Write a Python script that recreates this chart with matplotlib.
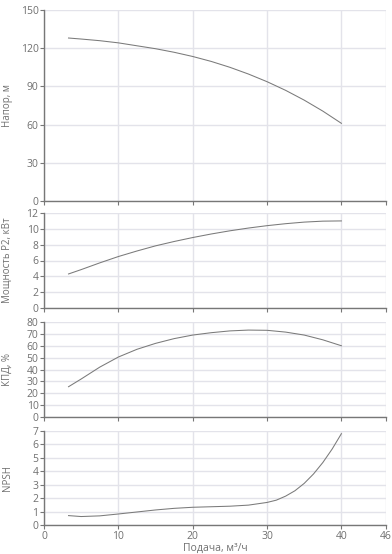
import matplotlib
matplotlib.use("Agg")
import matplotlib.pyplot as plt

plt.rcParams['font.family'] = ['Open Sans', 'DejaVu Sans']

# flow, m3/h
q = [3.3, 5, 7.5, 10, 12.5, 15, 17.5, 20, 22.5, 25, 27.5, 30, 32.5, 35, 37.5, 40]
head = [128.0, 127.2, 125.9, 124.2, 121.9, 119.6, 116.8, 113.5, 109.6, 105.0, 99.7, 93.7, 86.9, 79.2, 70.6, 61.0]
power = [4.3, 4.85, 5.7, 6.5, 7.2, 7.85, 8.4, 8.9, 9.35, 9.75, 10.1, 10.4, 10.65, 10.85, 10.97, 11.0]
eff = [25.5, 32, 42, 50.5, 57, 62, 66, 69, 71, 72.5, 73.2, 73, 71.5, 69, 65, 60]
q_npsh = [3.3, 5, 7.5, 10, 12.5, 15, 17.5, 20, 22.5, 25, 27.5, 30, 31.25, 32.5, 33.75, 35, 36.25, 37.5, 38.75, 40]
npsh = [0.7, 0.63, 0.68, 0.82, 0.97, 1.12, 1.24, 1.32, 1.36, 1.4, 1.48, 1.68, 1.85, 2.15, 2.55, 3.1, 3.8, 4.65, 5.65, 6.8]

xs = [q, q, q, q_npsh]
series = [head, power, eff, npsh]
labels = ["Напор, м", "Мощность P2, кВт", "КПД, %", "NPSH"]
yticks = [range(0, 151, 30), range(0, 13, 2), range(0, 81, 10), range(0, 8, 1)]
xticks = [0, 10, 20, 30, 40, 46]

W, H = 392, 554
# panel tops / bottoms in pixels
boxes = [(10, 201), (213, 308), (322, 417), (431, 525)]
left, right = 44, 386

fig = plt.figure(figsize=(W / 100, H / 100), dpi=100)
txt = '#707070'
for i, (top, bot) in enumerate(boxes):
    ax = fig.add_axes([left / W, 1 - bot / H, (right - left) / W, (bot - top) / H])
    ax.plot(xs[i], series[i], color='#7a7a7a', lw=0.75)
    yt = list(yticks[i])
    ax.set_ylim(yt[0], yt[-1])
    ax.set_yticks(yt)
    ax.set_xlim(0, 46)
    ax.set_xticks(xticks)
    ax.grid(True, color='#e3e3ea', lw=1)
    ax.set_axisbelow(True)
    for s in ['top', 'right']:
        ax.spines[s].set_visible(False)
    for s in ['left', 'bottom']:
        ax.spines[s].set_color('#777777')
        ax.spines[s].set_linewidth(1)
    ax.tick_params(colors='#777777', labelcolor=txt, labelsize=7.5, length=3, width=0.8, pad=1)
    ax.set_ylabel(labels[i], color=txt, fontsize=7)
    ax.yaxis.set_label_coords(-0.09, 0.5)
    if i < 3:
        ax.set_xticklabels([])
    else:
        ax.set_xlabel("Подача, м³/ч", color=txt, fontsize=7.5, labelpad=1)

fig.savefig("out.png", dpi=100)
